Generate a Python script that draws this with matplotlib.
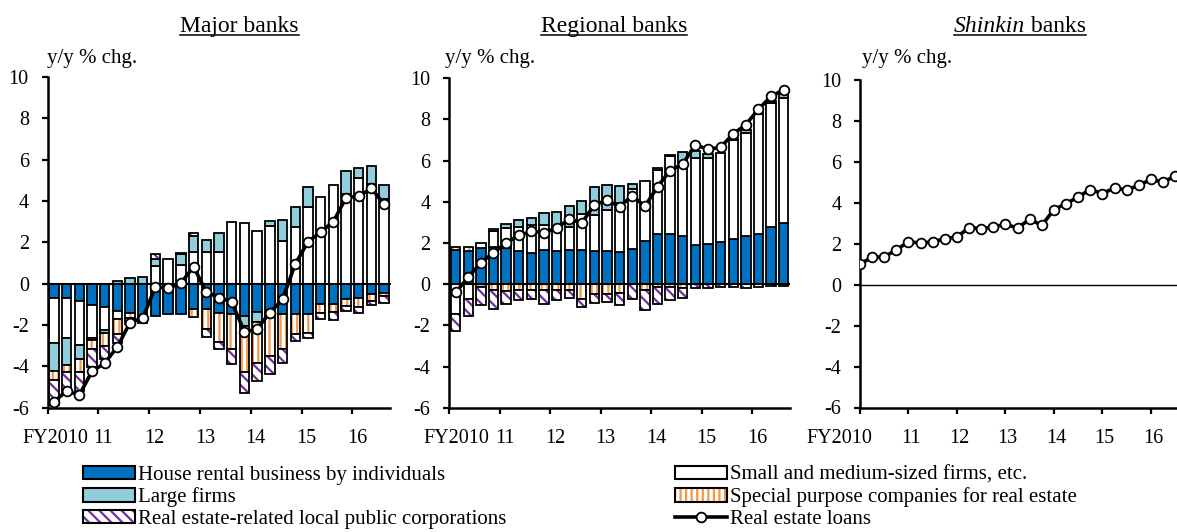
import numpy as np
import matplotlib
matplotlib.use('Agg')
import matplotlib.pyplot as plt
import matplotlib.transforms as mtransforms
from matplotlib.patches import Patch
from matplotlib.lines import Line2D
from matplotlib.legend_handler import HandlerTuple

plt.rcParams['font.family'] = ['Liberation Serif', 'DejaVu Serif']
plt.rcParams['hatch.linewidth'] = 1.6
plt.rcParams['axes.unicode_minus'] = False

W, H = 1177, 532

year_labels = ['FY2010', '11', '12', '13', '14', '15', '16']

# quarterly y/y % chg. contributions, FY2010 Q1 .. FY2016 Q3 (27 quarters)
major_house = [-0.69, -0.69, -0.85, -1.02, -1.11, -1.32, -1.44, -1.56, -1.56, -1.46, -1.46, -1.23, -1.24, -1.42,
               -1.45, -1.58, -1.38, -1.42, -1.48, -1.48, -1.48, -1.00, -0.97, -0.76, -0.68, -0.48, -0.44]
major_sme = [-2.18, -1.94, -2.10, -1.61, -1.13, -0.41, 0.0, 0.0, 0.85, 1.20, 0.92, 1.55, 1.52, 1.52,
             2.97, 2.96, 2.55, 2.80, 2.08, 2.75, 3.71, 4.19, 4.77, 4.32, 5.10, 4.81, 4.08]
major_large = [-1.37, -1.29, -0.70, -0.09, -0.13, 0.13, 0.29, 0.30, 0.36, 0.0, 0.50, 0.75, 0.60, 0.95,
               0.0, -0.47, -0.47, 0.25, 0.98, 0.96, 0.97, 0.0, 0.0, 1.13, 0.51, 0.88, 0.69]
major_spc = [-0.42, -0.37, -0.64, -0.44, -0.63, -0.72, -0.21, 0.0, 0.0, 0.0, 0.0, -0.38, -0.96, -1.38,
             -1.73, -2.23, -2.00, -2.10, -1.70, -0.97, -0.89, -0.40, -0.40, -0.32, -0.43, -0.36, -0.16]
major_local = [-1.19, -0.97, -0.89, -0.89, -0.65, -0.40, -0.30, -0.33, 0.21, 0.0, 0.08, 0.14, -0.38, -0.38,
               -0.70, -1.00, -0.85, -0.84, -0.66, -0.32, -0.28, -0.29, -0.39, -0.24, -0.29, -0.19, -0.32]
major_total = [-5.73, -5.18, -5.39, -4.24, -3.85, -3.05, -1.88, -1.65, -0.15, -0.23, 0.03, 0.82, -0.40, -0.68,
               -0.88, -2.33, -2.20, -1.40, -0.76, 0.95, 2.02, 2.50, 3.00, 4.16, 4.24, 4.61, 3.84]

regional_house = [1.65, 1.63, 1.78, 1.80, 1.75, 1.62, 1.50, 1.64, 1.63, 1.67, 1.65, 1.62, 1.60, 1.55,
                  1.72, 2.12, 2.42, 2.45, 2.32, 1.90, 1.96, 2.05, 2.18, 2.36, 2.45, 2.77, 2.95]
regional_sme = [-1.43, -0.74, 0.20, 0.80, 0.97, 1.18, 1.38, 1.24, 1.17, 1.13, 1.75, 1.73, 2.00, 2.38,
                2.90, 2.88, 3.15, 3.78, 3.60, 4.25, 4.15, 4.32, 4.80, 4.98, 5.80, 6.03, 6.10]
regional_large = [0.0, 0.0, -0.15, 0.06, 0.20, 0.33, 0.32, 0.57, 0.73, 1.00, 0.62, 1.35, 1.20, 0.85,
                  0.25, 0.0, 0.05, 0.05, 0.50, 0.30, 0.20, 0.0, 0.13, 0.15, 0.05, 0.12, 0.18]
regional_spc = [0.17, 0.17, 0.0, -0.30, -0.32, -0.28, -0.28, -0.30, -0.28, -0.28, -0.73, -0.50, -0.50, -0.42,
                0.0, -0.30, -0.12, -0.15, -0.18, 0.0, 0.0, 0.0, 0.0, 0.0, 0.0, 0.0, 0.0]
regional_local = [-0.83, -0.80, -0.85, -0.90, -0.62, -0.47, -0.42, -0.68, -0.50, -0.38, -0.37, -0.40, -0.37, -0.60,
                  -0.72, -0.95, -0.82, -0.62, -0.50, -0.17, -0.17, -0.15, -0.15, -0.17, -0.15, -0.10, -0.10]
regional_total = [-0.40, 0.33, 1.05, 1.52, 2.00, 2.37, 2.56, 2.51, 2.72, 3.16, 2.97, 3.86, 4.07, 3.77,
                  4.30, 3.78, 4.73, 5.52, 5.83, 6.77, 6.55, 6.65, 7.30, 7.75, 8.50, 9.12, 9.45]

shinkin_total = [1.00, 1.35, 1.35, 1.71, 2.09, 2.04, 2.09, 2.25, 2.33, 2.79, 2.74, 2.82, 2.95, 2.77,
                 3.20, 2.90, 3.67, 3.96, 4.29, 4.65, 4.45, 4.73, 4.62, 4.86, 5.14, 5.02, 5.30]

legend_left = ['House rental business by individuals', 'Large firms',
               'Real estate-related local public corporations']
legend_right = ['Small and medium-sized firms, etc.', 'Special purpose companies for real estate',
                'Real estate loans']

BLUE = '#0070C0'
LIGHT = '#92CDDC'
ORANGE = '#F79646'
PURPLE = '#7030A0'

# stacking order away from zero: house, sme, large, spc, local
styles = [dict(face=BLUE, hatch=None), dict(face='white', hatch=None), dict(face=LIGHT, hatch=None),
          dict(face='white', hatch='|||', hc=ORANGE), dict(face='white', hatch='\\\\\\', hc=PURPLE)]

fig = plt.figure(figsize=(W / 100, H / 100), dpi=100)


def px_rect(l, r, t, b):
    return [l / W, 1 - b / H, (r - l) / W, (b - t) / H]


def style_axes(ax, xlim):
    ax.set_xlim(*xlim)
    ax.set_ylim(-6, 10)
    ax.set_yticks(range(-6, 11, 2))
    ax.set_xticks(range(0, 25, 4))
    ax.set_xticklabels(year_labels)
    for s in ['top', 'right']:
        ax.spines[s].set_visible(False)
    for s in ['left', 'bottom']:
        ax.spines[s].set_linewidth(1.8)
    ax.tick_params(axis='y', length=4.5, width=1.6, pad=9, labelsize=14.5)
    ax.tick_params(axis='x', length=4.5, width=1.6, pad=11, labelsize=14.5)


def shift_labels(ax, offsets):
    for lbl, dx in zip(ax.get_xticklabels(), offsets):
        lbl.set_transform(lbl.get_transform() + mtransforms.ScaledTranslation(dx / 100, 0, fig.dpi_scale_trans))


def draw_bars(ax, comps, total):
    n = len(total)
    x = np.arange(n) + 0.5
    pos = np.zeros(n)
    neg = np.zeros(n)
    for vals, st in zip(comps, styles):
        v = np.asarray(vals, float)
        base = np.where(v >= 0, pos, neg)
        m = v != 0
        if st['hatch']:
            ax.bar(x[m], v[m], bottom=base[m], width=0.74, color=st['face'], edgecolor=st['hc'],
                   hatch=st['hatch'], linewidth=0, zorder=2)
            ax.bar(x[m], v[m], bottom=base[m], width=0.74, fill=False, edgecolor='black',
                   linewidth=1.3, zorder=2)
        else:
            ax.bar(x[m], v[m], bottom=base[m], width=0.74, color=st['face'], edgecolor='black',
                   linewidth=1.3, zorder=2)
        pos += np.clip(v, 0, None)
        neg += np.clip(v, None, 0)
    ax.axhline(0, color='black', lw=1.5, zorder=3)
    ax.plot(x, total, color='black', lw=2.6, marker='o', ms=7, mfc='white', mec='black', mew=1.3, zorder=4)


ax1 = fig.add_axes(px_rect(47.5, 390.5, 77, 407.7))
draw_bars(ax1, [major_house, major_sme, major_large, major_spc, major_local], major_total)
style_axes(ax1, (0, 27))
shift_labels(ax1, [8, 5, 5, 5, 5, 5, 5])

ax2 = fig.add_axes(px_rect(449.3, 790, 78.3, 407.7))
draw_bars(ax2, [regional_house, regional_sme, regional_large, regional_spc, regional_local], regional_total)
style_axes(ax2, (0, 27))
shift_labels(ax2, [7, 5, 5, 5, 5, 5, 5])

ax3 = fig.add_axes(px_rect(860, 1177, 80, 407.5))
ax3.axhline(0, color='black', lw=1.0, zorder=2)
ax3.plot(np.arange(len(shinkin_total)), shinkin_total, color='black', lw=2.6, marker='o', ms=7,
         mfc='white', mec='black', mew=1.3, zorder=4)
style_axes(ax3, (0, 26.15))
shift_labels(ax3, [-21, 2, 2, 2, 2, 2, 2])

for ax, xl in [(ax1, 46.7), (ax2, 445), (ax3, 861.7)]:
    fig.text(xl / W, 1 - 58 / H, 'y/y % chg.', fontsize=15, va='center', ha='left')

renderer = fig.canvas.get_renderer()


def underlined_title(cx, parts):
    texts = [fig.text(0, 1 - 32 / H, s, fontsize=17, style=st, va='baseline') for s, st in parts]
    widths = [t.get_window_extent(renderer).width for t in texts]
    total = sum(widths)
    x0 = cx - total / 2
    for t, w in zip(texts, widths):
        t.set_x(x0 / W)
        x0 += w
    fig.add_artist(Line2D([(cx - total / 2) / W, (cx + total / 2) / W], [1 - 35 / H] * 2,
                          color='black', lw=1.1, transform=fig.transFigure))


underlined_title(239.5, [('Major banks', 'normal')])
underlined_title(614, [('Regional banks', 'normal')])
underlined_title(1019.7, [('Shinkin', 'italic'), (' banks', 'normal')])

h_house = Patch(facecolor=BLUE, edgecolor='black', linewidth=1.5)
h_large = Patch(facecolor=LIGHT, edgecolor='black', linewidth=1.5)
h_local = (Patch(facecolor='white', edgecolor=PURPLE, hatch='\\\\\\', linewidth=0),
           Patch(fill=False, edgecolor='black', linewidth=1.5))
h_sme = Patch(facecolor='white', edgecolor='black', linewidth=1.5)
h_spc = (Patch(facecolor='white', edgecolor=ORANGE, hatch='|||', linewidth=0),
         Patch(fill=False, edgecolor='black', linewidth=1.5))
h_line = Line2D([], [], color='black', lw=2.6, marker='o', ms=7, mfc='white', mec='black', mew=1.3)

leg_kw = dict(loc='upper left', frameon=False, fontsize=15, handlelength=2.5, handleheight=0.6,
              handletextpad=0.15, labelspacing=0.12, borderpad=0, borderaxespad=0, numpoints=1,
              handler_map={tuple: HandlerTuple(ndivide=1)})
fig.legend([h_house, h_large, h_local], legend_left, bbox_to_anchor=(83 / W, 1 - 466 / H), **leg_kw)
fig.legend([h_sme, h_spc, h_line], legend_right, bbox_to_anchor=(675 / W, 1 - 466 / H), **leg_kw)

fig.savefig('out.png', dpi=100)
